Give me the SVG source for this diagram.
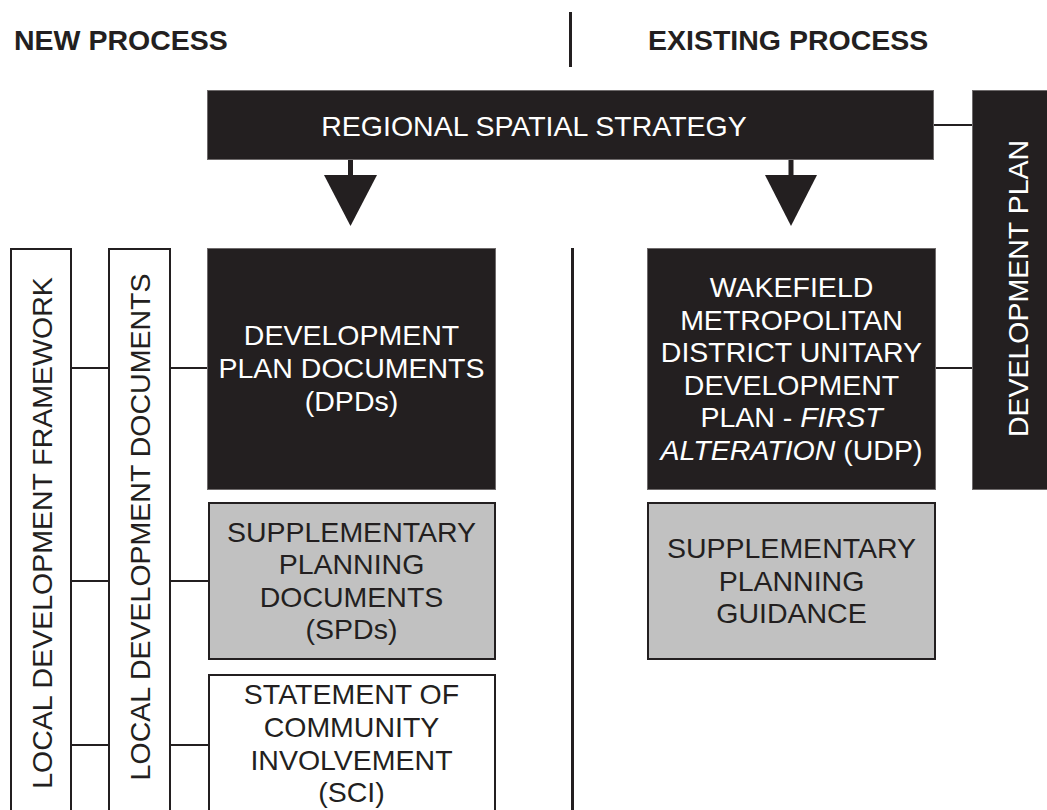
<svg xmlns="http://www.w3.org/2000/svg" width="1047" height="810" viewBox="0 0 1047 810">
<style>
.t{font-family:"Liberation Sans",Arial,sans-serif;font-size:28.5px;text-anchor:middle}
.w{fill:#ffffff}
.k{fill:#231f20}
.h{font-family:"Liberation Sans",Arial,sans-serif;font-size:28.5px;font-weight:bold;fill:#231f20}
.dark{fill:#231f20;stroke:#6e6a6b;stroke-width:1}
.grey{fill:#c1c1c1;stroke:#231f20;stroke-width:2}
.white{fill:#ffffff;stroke:#231f20;stroke-width:2}
.ln{stroke:#231f20;stroke-width:2;fill:none}
.div{stroke:#231f20;stroke-width:3;fill:none}
.it{font-style:italic}
</style>
<rect width="1047" height="810" fill="#ffffff"/>
<g id="headers">
<text class="h" x="14" y="50">NEW PROCESS</text>
<text class="h" x="648" y="50">EXISTING PROCESS</text>
<line class="div" x1="570.5" y1="12" x2="570.5" y2="67"/>
<line class="div" x1="572.5" y1="248" x2="572.5" y2="810"/>
</g>
<g id="connectors">
<line class="ln" x1="71" y1="368" x2="109" y2="368"/>
<line class="ln" x1="170" y1="368" x2="207" y2="368"/>
<line class="ln" x1="71" y1="581" x2="109" y2="581"/>
<line class="ln" x1="170" y1="581" x2="208" y2="581"/>
<line class="ln" x1="71" y1="745" x2="109" y2="745"/>
<line class="ln" x1="170" y1="745" x2="208" y2="745"/>
<line class="ln" x1="933" y1="125" x2="972" y2="125"/>
<line class="ln" x1="935" y1="368" x2="972" y2="368"/>
<rect class="k" x="348" y="159" width="5" height="17"/>
<polygon class="k" points="324,175 377,175 350.5,226"/>
<rect class="k" x="788.5" y="159" width="5" height="17"/>
<polygon class="k" points="765,175 817,175 791,226"/>
</g>
<g id="rss">
<rect class="dark" x="207.5" y="90.5" width="726" height="69"/>
<text class="t w" x="534" y="136">REGIONAL SPATIAL STRATEGY</text>
</g>
<g id="devplan">
<rect class="dark" x="972.5" y="90.5" width="80" height="399"/>
<text class="t w" transform="translate(1028,288.5) rotate(-90)">DEVELOPMENT PLAN</text>
</g>
<g id="ldf">
<rect class="white" x="11" y="249" width="60" height="580"/>
<text class="t k" transform="translate(52,533) rotate(-90)">LOCAL DEVELOPMENT FRAMEWORK</text>
</g>
<g id="ldd">
<rect class="white" x="109" y="249" width="61" height="580"/>
<text class="t k" transform="translate(150,527) rotate(-90)">LOCAL DEVELOPMENT DOCUMENTS</text>
</g>
<g id="dpd">
<rect class="dark" x="207.5" y="248.5" width="288" height="241"/>
<text class="t w" x="351.5" y="345">DEVELOPMENT</text>
<text class="t w" x="351.5" y="378">PLAN DOCUMENTS</text>
<text class="t w" x="351.5" y="411">(DPDs)</text>
</g>
<g id="spd">
<rect class="grey" x="209" y="503" width="286" height="156"/>
<text class="t k" x="351.5" y="542">SUPPLEMENTARY</text>
<text class="t k" x="351.5" y="574">PLANNING</text>
<text class="t k" x="351.5" y="607">DOCUMENTS</text>
<text class="t k" x="351.5" y="639">(SPDs)</text>
</g>
<g id="sci">
<rect class="white" x="209" y="675" width="286" height="160"/>
<text class="t k" x="351.5" y="704">STATEMENT OF</text>
<text class="t k" x="351.5" y="737">COMMUNITY</text>
<text class="t k" x="351.5" y="770">INVOLVEMENT</text>
<text class="t k" x="351.5" y="802">(SCI)</text>
</g>
<g id="udp">
<rect class="dark" x="647.5" y="248.5" width="288" height="241"/>
<text class="t w" x="791.5" y="297">WAKEFIELD</text>
<text class="t w" x="791.5" y="329.5">METROPOLITAN</text>
<text class="t w" x="791.5" y="362">DISTRICT UNITARY</text>
<text class="t w" x="791.5" y="394.5">DEVELOPMENT</text>
<text class="t w" x="791.5" y="427">PLAN - <tspan class="it">FIRST</tspan></text>
<text class="t w" x="791.5" y="460"><tspan class="it">ALTERATION</tspan> (UDP)</text>
</g>
<g id="spg">
<rect class="grey" x="648" y="503" width="287" height="156"/>
<text class="t k" x="791.5" y="558">SUPPLEMENTARY</text>
<text class="t k" x="791.5" y="591">PLANNING</text>
<text class="t k" x="791.5" y="623">GUIDANCE</text>
</g>
</svg>
